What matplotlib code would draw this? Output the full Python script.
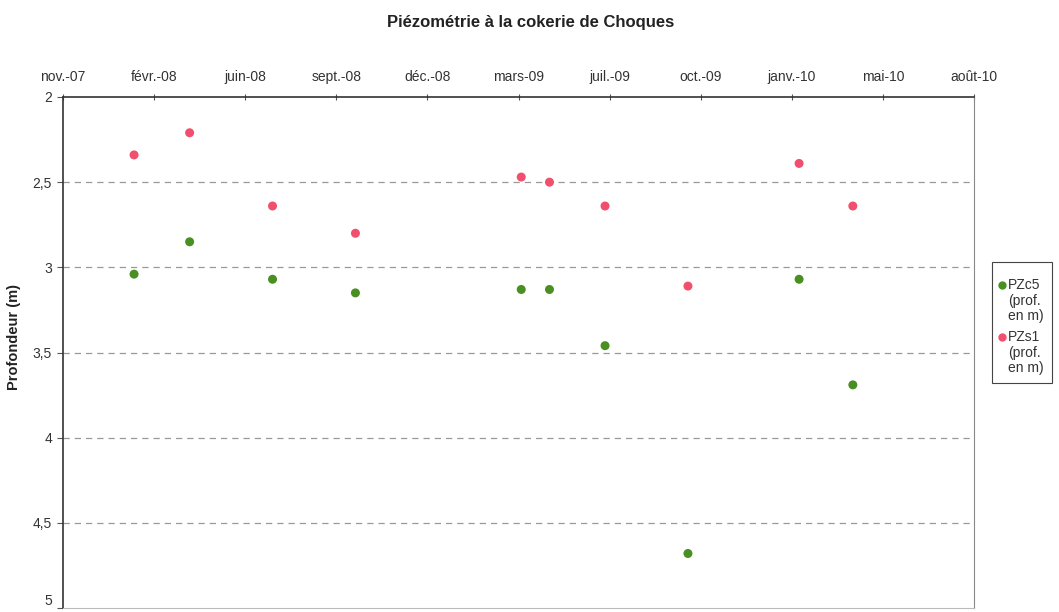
import datetime as dt

import matplotlib

matplotlib.use("Agg")
import matplotlib.dates as mdates
import matplotlib.pyplot as plt
from matplotlib.lines import Line2D
from matplotlib.patches import Rectangle
from matplotlib.ticker import FuncFormatter


# measurement dates (same for both piezometers)
DATES = [
    "2008-02-01", "2008-04-02", "2008-07-02", "2008-10-01",
    "2009-04-01", "2009-05-02", "2009-07-02", "2009-10-01",
    "2010-01-31", "2010-03-31",
]

PZC5 = [3.04, 2.85, 3.07, 3.15, 3.13, 3.13, 3.46, 4.68, 3.07, 3.69]
PZS1 = [2.34, 2.21, 2.64, 2.80, 2.47, 2.50, 2.64, 3.11, 2.39, 2.64]

SERIES_LABELS = ["PZc5\n(prof.\nen m)", "PZs1\n(prof.\nen m)"]
SERIES_COLORS = ["#4a8f22", "#f0506e"]

Y_TICKS = [2, 2.5, 3, 3.5, 4, 4.5, 5]

MONTHS_FR = [
    "janv.", "févr.", "mars", "avr.", "mai", "juin",
    "juil.", "août", "sept.", "oct.", "nov.", "déc.",
]

AXIS_START = dt.date(2007, 11, 15)
TICK_STEP_DAYS = 100
N_TICKS = 11

W, H = 1059, 612


def fr_date(value, pos=None):
    d = mdates.num2date(value)
    return f"{MONTHS_FR[d.month - 1]}-{d.strftime('%y')}"


def fr_number(value, pos=None):
    return f"{value:g}".replace(".", ",")


def px(x, y):
    # pixel position (from top-left) -> figure fraction
    return x / W, 1 - y / H


def main() -> None:
    plt.rcParams["font.family"] = ["Liberation Sans", "DejaVu Sans"]

    fig = plt.figure(figsize=(W / 100, H / 100), dpi=100)
    ax = fig.add_axes([63 / W, 1 - 608 / H, 911 / W, 511 / H])

    dates = [dt.datetime.strptime(s, "%Y-%m-%d") for s in DATES]

    for values, color in zip([PZC5, PZS1], SERIES_COLORS):
        ax.scatter(dates, values, s=42, color=color, zorder=3,
                   edgecolors="none")

    ticks = [
        AXIS_START + dt.timedelta(days=TICK_STEP_DAYS * i)
        for i in range(N_TICKS)
    ]
    ax.set_xlim(ticks[0], ticks[-1])
    ax.set_xticks(ticks)
    ax.xaxis.set_major_formatter(FuncFormatter(fr_date))
    ax.xaxis.tick_top()

    ax.set_ylim(5, 2)
    ax.set_yticks(Y_TICKS)
    ax.yaxis.set_major_formatter(FuncFormatter(fr_number))

    ax.tick_params(axis="x", direction="inout", length=5, color="#555555",
                   labelsize=10, labelcolor="#333333", pad=7)
    ax.tick_params(axis="y", direction="out", length=4, color="#555555",
                   labelsize=10, labelcolor="#333333", pad=4)
    ax.get_yticklabels()[-1].set_verticalalignment("bottom")

    for y in Y_TICKS[1:-1]:
        ax.axhline(y, color="#999999", linestyle=(0, (5, 4)),
                   linewidth=0.9, zorder=1)

    ax.spines["left"].set_color("#333333")
    ax.spines["top"].set_color("#333333")
    ax.spines["right"].set_color("#888888")
    ax.spines["bottom"].set_color("#bbbbbb")
    for side in ("left", "top"):
        ax.spines[side].set_linewidth(1.2)

    ax.set_ylabel("Profondeur (m)", fontsize=10.5, fontweight="bold",
                  color="#222222")
    ax.yaxis.set_label_coords(-0.046, (608 - 337) / 511)

    fig.text(*px(531, 22), "Piézométrie à la cokerie de Choques",
             fontsize=12, fontweight="bold", color="#222222",
             ha="center", va="center")

    # legend box drawn by hand so the marker sits on the first text line
    x0, y0 = px(992, 383)
    fig.add_artist(Rectangle((x0, y0), 60 / W, 121 / H,
                             transform=fig.transFigure, fill=False,
                             edgecolor="#444444", linewidth=0.8))
    for i, (label, color) in enumerate(zip(SERIES_LABELS, SERIES_COLORS)):
        top = 285 + i * 52
        fig.add_artist(Line2D([1002 / W], [1 - top / H], marker="o",
                              markersize=5, color=color, linestyle="none",
                              transform=fig.transFigure))
        fig.text(*px(1008, top - 7), label, fontsize=10, color="#333333",
                 ha="left", va="top", linespacing=1.15)

    fig.savefig("out.png", dpi=100)
    plt.close(fig)


if __name__ == "__main__":
    main()
